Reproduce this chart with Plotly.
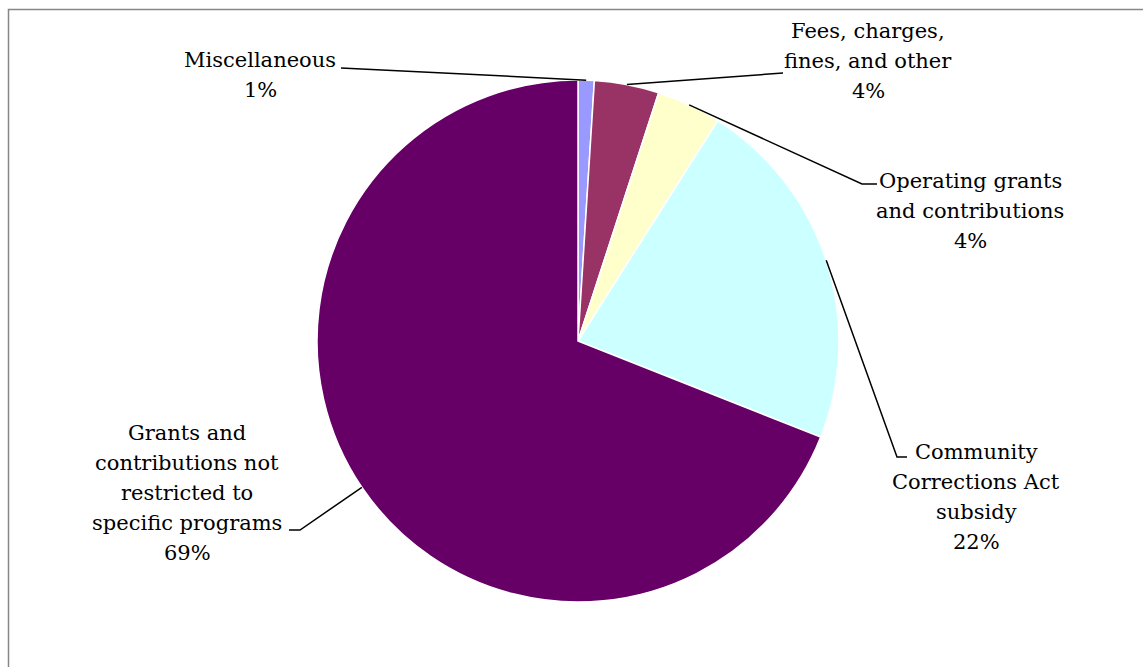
import math
import plotly.graph_objects as go

# ---------------- data ----------------
categories = [
    "Miscellaneous",
    "Fees, charges, fines, and other",
    "Operating grants and contributions",
    "Community Corrections Act subsidy",
    "Grants and contributions not restricted to specific programs",
]
shares = [1, 4, 4, 22, 69]
label_lines = [
    ["Miscellaneous"],
    ["Fees, charges,", "fines, and other"],
    ["Operating grants", "and contributions"],
    ["Community", "Corrections Act", "subsidy"],
    ["Grants and", "contributions not", "restricted to", "specific programs"],
]

# ---------------- style / layout ----------------
colors = ["#9999FF", "#993366", "#FFFFCC", "#CCFFFF", "#660066"]
W, H = 1143, 667
CX, CY, R = 578, 341, 261
FONT = dict(family="DejaVu Serif", size=21, color="black")
LINE_H = 30
# label text centre x and first line centre y (pixels)
label_pos = [(260, 60), (868, 31), (970, 181), (976, 452), (187, 433)]
# leader waypoints from label toward pie (pixels)
leader_pts = [
    [(341, 68)],
    [(783, 73)],
    [(877, 184), (862, 184)],
    [(907, 457), (897, 457)],
    [(289, 530), (300, 530)],
]
anchor_override = {4: 235.9}


def px(x):
    return x / W


def py(y):
    return 1 - y / H


total = sum(shares)
fig = go.Figure(
    go.Pie(
        labels=categories,
        values=shares,
        sort=False,
        direction="clockwise",
        rotation=0,
        marker=dict(colors=colors, line=dict(color="white", width=1.5)),
        textinfo="none",
        hoverinfo="skip",
        showlegend=False,
        domain=dict(x=[px(CX - R), px(CX + R)], y=[py(CY + R), py(CY - R)]),
    )
)

shapes = []
annotations = []
cum = 0
for i, v in enumerate(shares):
    mid = (cum + v / 2) / total * 360
    cum += v
    ang = math.radians(anchor_override.get(i, mid))
    ex = CX + R * math.sin(ang)
    ey = CY - R * math.cos(ang)
    pts = leader_pts[i] + [(ex, ey)]
    path = "M " + " L ".join(f"{px(x):.5f},{py(y):.5f}" for x, y in pts)
    shapes.append(dict(type="path", xref="paper", yref="paper", path=path,
                       line=dict(color="black", width=1.5)))
    lines = label_lines[i] + [f"{round(v / total * 100)}%"]
    lx, ly = label_pos[i]
    for k, t in enumerate(lines):
        annotations.append(dict(
            x=px(lx), y=py(ly + k * LINE_H), xref="paper", yref="paper",
            text=t, showarrow=False, xanchor="center", yanchor="middle",
            font=FONT,
        ))

# outer frame
shapes.append(dict(type="rect", xref="paper", yref="paper",
                   x0=px(8.5), x1=1.05, y0=-0.05, y1=py(9.5),
                   line=dict(color="#868686", width=1.5), fillcolor="rgba(0,0,0,0)"))

fig.update_layout(
    width=W, height=H,
    margin=dict(l=0, r=0, t=0, b=0),
    paper_bgcolor="white", plot_bgcolor="white",
    font=FONT,
    shapes=shapes, annotations=annotations,
    hovermode=False,
)

fig.write_html("out.html")
